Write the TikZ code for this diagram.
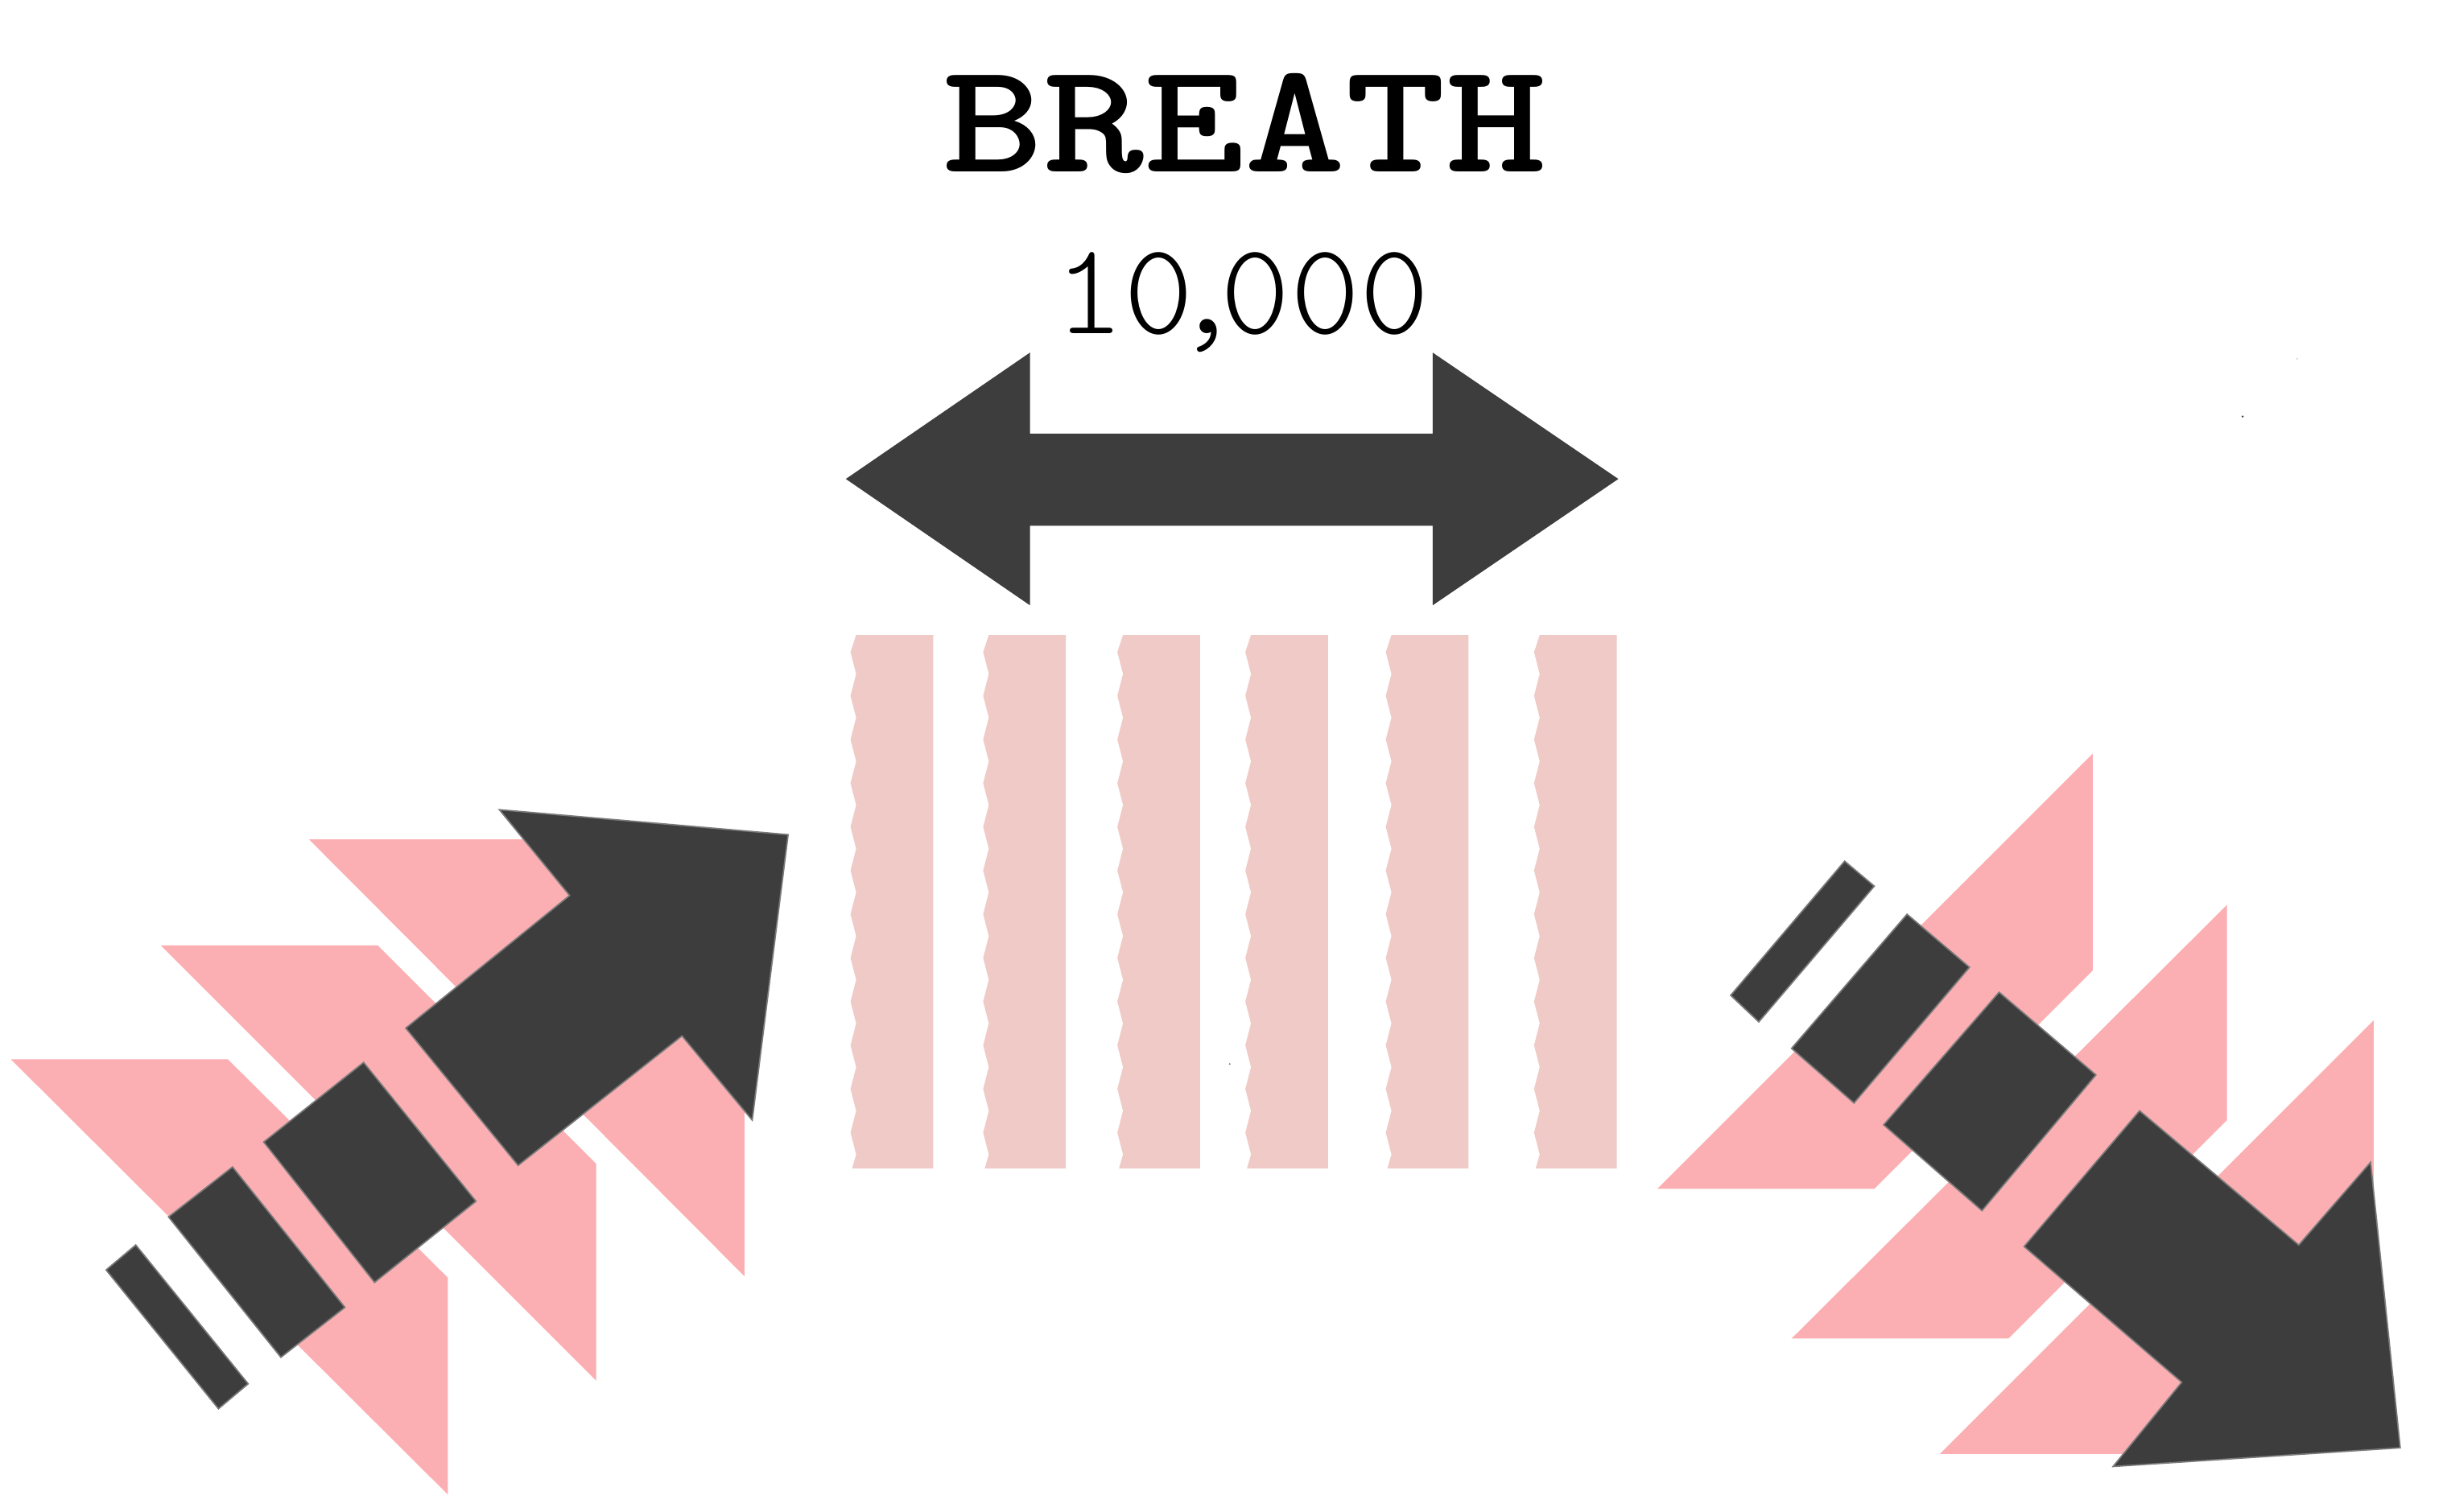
\documentclass[tikz,border=0pt]{standalone}
\usepackage{graphicx}
\definecolor{darkc}{HTML}{3D3D3D}
\definecolor{edgec}{HTML}{7A7A7A}
\definecolor{pinkc}{HTML}{FCAFB2}
\definecolor{stripec}{HTML}{F0CAC6}
\begin{document}
\begin{tikzpicture}[x=0.02cm,y=-0.02cm,
  darkshape/.style={fill=darkc,draw=edgec,line width=0.5pt},
  pinkshape/.style={fill=pinkc},
  stripeshape/.style={fill=stripec},
  txt/.style={anchor=base,inner sep=0pt,text=black}]
\useasboundingbox (0,0) rectangle (1568,969);
\fill[white] (0,0) rectangle (1568,969);

% texts
\node[txt] (title) at (797.5,110) {\resizebox{7.74cm}{1.26cm}{\ttfamily\bfseries BREATH}};
\node[txt] (count) at (796,214) {\resizebox{4.8cm}{1.04cm}{\ttfamily\fontseries{l}\selectfont 10\kern-0.16em,\kern-0.16em000}};

% double arrow
\fill[darkc] (542,307) -- (660,226) -- (660,278) -- (918,278) -- (918,226) -- (1037,307)
  -- (918,388) -- (918,337) -- (660,337) -- (660,388) -- cycle;

% stripes
\foreach \xo/\xr in {545/598, 630/683, 716/769, 798/851, 888/941, 983/1036} {
  \fill[stripeshape] (\xo+3.6,407)
    \foreach \k in {0,...,11} { -- (\xo,418+28*\k) -- (\xo+3.6,432+28*\k) }
    -- (\xo+1,749) -- (\xr,749) -- (\xr,407) -- cycle;
}

% left group
\fill[pinkshape] (7,679) -- (146,679) -- (287,819) -- (287,958) -- cycle;
\fill[pinkshape] (103,606) -- (242,606) -- (382,746) -- (382,885) -- cycle;
\fill[pinkshape] (198,538) -- (337,538) -- (477,678) -- (477,818) -- cycle;
\filldraw[darkshape] (260,659) -- (365,574) -- (320,519) -- (505,535) -- (482,718)
  -- (437,664) -- (332,747) -- cycle;
\filldraw[darkshape] (169,732) -- (233,681) -- (305,770) -- (240,822) -- cycle;
\filldraw[darkshape] (108,780) -- (149,748) -- (221,838) -- (180,870) -- cycle;
\filldraw[darkshape] (68,814) -- (87,798) -- (159,887) -- (140,903) -- cycle;

% right group
\fill[pinkshape] (1341,483) -- (1341,622) -- (1201,762) -- (1062,762) -- cycle;
\fill[pinkshape] (1427,580) -- (1427,718) -- (1287,858) -- (1148,858) -- cycle;
\fill[pinkshape] (1521,654) -- (1521,793) -- (1382,932) -- (1243,932) -- cycle;
\filldraw[darkshape] (1297,799) -- (1371,712) -- (1473,798) -- (1519,745) -- (1538,928)
  -- (1354,940) -- (1398,886) -- cycle;
\filldraw[darkshape] (1207,721) -- (1281,636) -- (1343,689) -- (1270,776) -- cycle;
\filldraw[darkshape] (1148,672) -- (1222,586) -- (1262,620) -- (1188,707) -- cycle;
\filldraw[darkshape] (1109,638) -- (1182,552) -- (1201,568) -- (1127,655) -- cycle;

% specks
\fill[darkc] (1437,267) circle (0.4pt);
\fill[gray!40] (1472,230) circle (0.3pt);
\fill[darkc!70] (788,682) circle (0.35pt);
\end{tikzpicture}
\end{document}
